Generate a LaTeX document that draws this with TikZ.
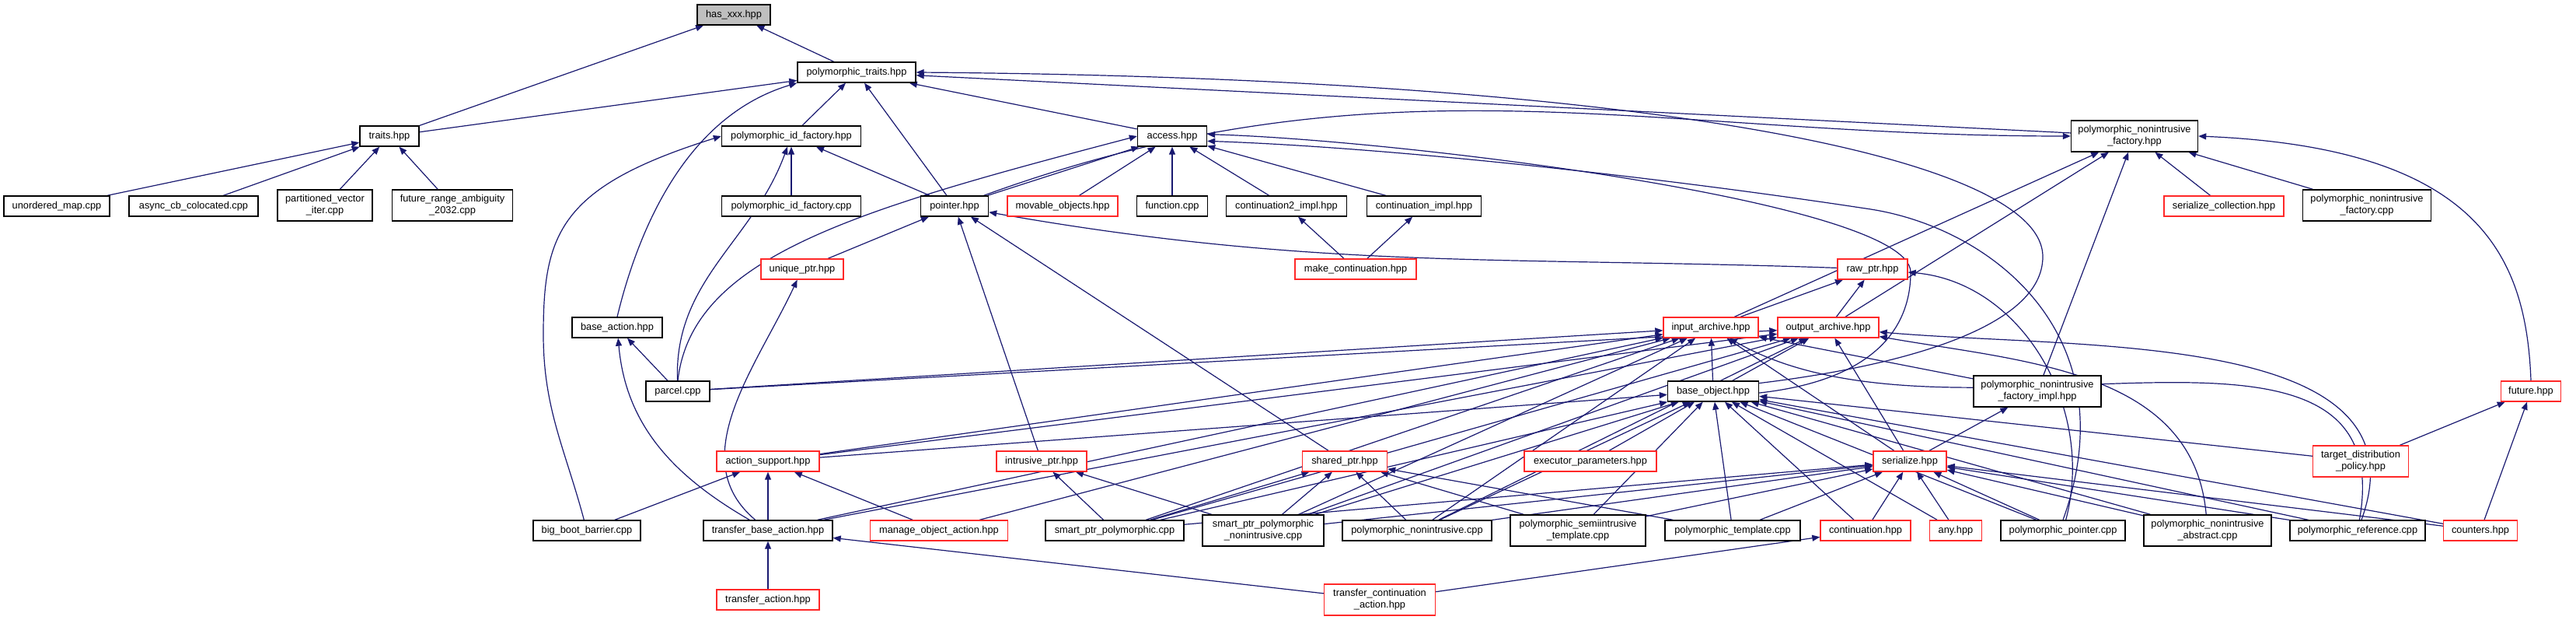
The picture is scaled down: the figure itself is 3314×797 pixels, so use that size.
\documentclass[tikz,border=0pt]{standalone}
\usepackage{fontspec}
\setmainfont{Liberation Sans}
\usetikzlibrary{arrows.meta,backgrounds}
\definecolor{bleunuit}{RGB}{25,25,112}
\definecolor{rougedox}{RGB}{255,40,40}
\definecolor{grisdox}{RGB}{191,191,191}

\begin{document}
\begin{tikzpicture}[x=0.5pt, y=0.5pt,
  fich/.style={draw=black, line width=0.7pt, fill=white, inner sep=0pt,
    minimum height=13pt, align=center, font=\fontsize{6.4}{7.5}\selectfont},
  fichrouge/.style={fich, draw=rougedox},
  deux/.style={minimum height=20pt},
  lien/.style={draw=bleunuit, line width=0.6pt, -{Triangle[length=5pt,width=4pt]}}]

\useasboundingbox (0,0) rectangle (3314,-797);

% Fichiers
\node[fich, fill=grisdox, minimum width=47pt] (has) at (944,-19) {has\_xxx.hpp};
\node[fich, minimum width=76pt] (ptraits) at (1102,-93) {polymorphic\_traits.hpp};

\node[fich, minimum width=38pt] (traits) at (501,-175) {traits.hpp};
\node[fich, minimum width=89.5pt] (pidf) at (1018,-175) {polymorphic\_id\_factory.hpp};
\node[fich, minimum width=44.5pt] (access) at (1508,-175) {access.hpp};
\node[fich, deux, minimum width=81.5pt] (pnf) at (2746,-175) {polymorphic\_nonintrusive\\\_factory.hpp};

\node[fich, minimum width=68pt] (umap) at (73,-265) {unordered\_map.cpp};
\node[fich, minimum width=83pt] (asynccb) at (249,-265) {async\_cb\_colocated.cpp};
\node[fich, deux, minimum width=61pt] (partvec) at (418,-264) {partitioned\_vector\\\_iter.cpp};
\node[fich, deux, minimum width=77.5pt] (futrange) at (582,-264) {future\_range\_ambiguity\\\_2032.cpp};
\node[fich, minimum width=89.5pt] (pidfcpp) at (1018,-265) {polymorphic\_id\_factory.cpp};
\node[fich, minimum width=43.5pt] (pointer) at (1228,-265) {pointer.hpp};
\node[fichrouge, minimum width=71pt] (movable) at (1367,-265) {movable\_objects.hpp};
\node[fich, minimum width=45.5pt] (function) at (1508,-265) {function.cpp};
\node[fich, minimum width=77.5pt] (conttwo) at (1655,-265) {continuation2\_impl.hpp};
\node[fich, minimum width=73.5pt] (contimpl) at (1832,-265) {continuation\_impl.hpp};
\node[fichrouge, minimum width=77pt] (sercoll) at (2861,-265) {serialize\_collection.hpp};
\node[fich, deux, minimum width=82.5pt] (pnfcpp) at (3045,-264) {polymorphic\_nonintrusive\\\_factory.cpp};

\node[fichrouge, minimum width=53pt] (uniqueptr) at (1032,-346) {unique\_ptr.hpp};
\node[fichrouge, minimum width=78pt] (makecont) at (1744,-346) {make\_continuation.hpp};
\node[fichrouge, minimum width=45pt] (rawptr) at (2409,-346) {raw\_ptr.hpp};

\node[fich, minimum width=58pt] (baseaction) at (794,-421) {base\_action.hpp};
\node[fichrouge, minimum width=61pt] (inarch) at (2201,-421) {input\_archive.hpp};
\node[fichrouge, minimum width=65pt] (outarch) at (2352,-421) {output\_archive.hpp};

\node[fich, minimum width=41pt] (parcel) at (872,-503) {parcel.cpp};
\node[fich, minimum width=58.5pt] (baseobj) at (2204,-503) {base\_object.hpp};
\node[fich, deux, minimum width=82pt] (pnfimpl) at (2621,-503) {polymorphic\_nonintrusive\\\_factory\_impl.hpp};
\node[fichrouge, minimum width=38.5pt] (future) at (3256,-503) {future.hpp};

\node[fichrouge, minimum width=66pt] (actsupp) at (988,-593) {action\_support.hpp};
\node[fichrouge, minimum width=58pt] (intrptr) at (1340,-593) {intrusive\_ptr.hpp};
\node[fichrouge, minimum width=54.5pt] (sharedptr) at (1730,-593) {shared\_ptr.hpp};
\node[fichrouge, minimum width=85pt] (execparam) at (2046,-593) {executor\_parameters.hpp};
\node[fichrouge, minimum width=47pt] (serialize) at (2457,-593) {serialize.hpp};
\node[fichrouge, deux, minimum width=61.5pt] (targetdist) at (3037,-593) {target\_distribution\\\_policy.hpp};

\node[fich, minimum width=69pt] (bigboot) at (755,-682) {big\_boot\_barrier.cpp};
\node[fich, minimum width=83pt] (transbase) at (988,-682) {transfer\_base\_action.hpp};
\node[fichrouge, minimum width=88.5pt] (manageobj) at (1208,-682) {manage\_object\_action.hpp};
\node[fich, minimum width=89pt] (spp) at (1434,-682) {smart\_ptr\_polymorphic.cpp};
\node[fich, deux, minimum width=78pt] (sppn) at (1625,-682) {smart\_ptr\_polymorphic\\\_nonintrusive.cpp};
\node[fich, minimum width=96pt] (pncpp) at (1823,-682) {polymorphic\_nonintrusive.cpp};
\node[fich, deux, minimum width=87pt] (semitmpl) at (2030,-682) {polymorphic\_semiintrusive\\\_template.cpp};
\node[fich, minimum width=87pt] (ptmpl) at (2229,-682) {polymorphic\_template.cpp};
\node[fichrouge, minimum width=58pt] (cont) at (2400,-682) {continuation.hpp};
\node[fichrouge, minimum width=33.5pt] (any) at (2516,-682) {any.hpp};
\node[fich, minimum width=80pt] (ppointer) at (2654,-682) {polymorphic\_pointer.cpp};
\node[fich, deux, minimum width=82pt] (pnabs) at (2840,-682) {polymorphic\_nonintrusive\\\_abstract.cpp};
\node[fich, minimum width=87pt] (pref) at (3033,-682) {polymorphic\_reference.cpp};
\node[fichrouge, minimum width=47.5pt] (counters) at (3191,-682) {counters.hpp};

\node[fichrouge, minimum width=66pt] (transaction) at (988,-771) {transfer\_action.hpp};
\node[fichrouge, deux, minimum width=71.5pt] (transcont) at (1775,-771) {transfer\_continuation\\\_action.hpp};

% Inclusions
\coordinate (virage1) at (2628,-330);
\coordinate (virage2) at (2458,-350);
\coordinate (virage3) at (699,-430);
\coordinate (virage4) at (2400,-268);
\begin{scope}[on background layer]
\foreach \a/\b in {traits/has, ptraits/has, traits/ptraits,
    umap/traits, asynccb/traits, partvec/traits, futrange/traits,
    pidf/ptraits, pointer/ptraits, access/ptraits, pnf/ptraits,
    pidfcpp/pidf, pointer/pidf,
    pointer/access, movable/access, function/access, conttwo/access, contimpl/access,
    inarch/pnf, outarch/pnf, pnfimpl/pnf, sercoll/pnf, pnfcpp/pnf,
    makecont/conttwo, makecont/contimpl,
    uniqueptr/pointer, intrptr/pointer, sharedptr/pointer,
    inarch/rawptr, outarch/rawptr,
    parcel/baseaction, baseobj/inarch, baseobj/outarch,
    parcel/inarch, parcel/outarch,
    actsupp/inarch, actsupp/outarch, actsupp/baseobj,
    transbase/inarch, transbase/outarch,
    bigboot/actsupp, transbase/actsupp, manageobj/actsupp, manageobj/inarch,
    spp/intrptr, sppn/intrptr,
    spp/sharedptr, sppn/sharedptr, pncpp/sharedptr, semitmpl/sharedptr, ptmpl/sharedptr,
    spp/baseobj, spp/serialize, spp/inarch, spp/outarch,
    sppn/baseobj, sppn/serialize, sppn/inarch, sppn/outarch,
    pncpp/baseobj, pncpp/serialize, pncpp/inarch, pncpp/outarch,
    semitmpl/baseobj, semitmpl/serialize, ptmpl/baseobj, ptmpl/serialize,
    cont/baseobj, cont/serialize, execparam/baseobj,
    any/serialize, any/baseobj,
    ppointer/serialize, ppointer/baseobj,
    pnabs/serialize, pnabs/baseobj,
    pref/serialize, pref/baseobj,
    counters/serialize, counters/baseobj, counters/future,
    targetdist/baseobj, targetdist/future,
    serialize/inarch, serialize/outarch, serialize/pnfimpl, pnfimpl/inarch,
    transaction/transbase, transcont/transbase, transcont/cont}
  \draw[lien] (\a) -- (\b);

% Liens courbes
\draw[lien] (baseaction.north) .. controls (820,-300) and (880,-150) .. (ptraits.south west);
\draw[lien] (parcel) to[out=92, in=-110] (pidf);
\draw[lien] (parcel.north) .. controls (890,-330) and (1100,-270) .. (access.west);
\draw[lien] (transbase) to[out=150, in=-85] (baseaction);
\draw[lien] (transbase) to[out=140, in=-115] (uniqueptr);
\draw[lien] (pointer) to[out=20, in=180] (pnf);
\draw[lien] (rawptr) to[out=178, in=-10] (pointer);
\draw[lien] (bigboot) to[out=105, in=-90] (virage3)
  .. controls (699,-300) and (720,-240) .. (pidf.west);
\draw[lien] (future.north) .. controls (3250,-330) and (3190,-190) .. (pnf.east);
\draw[lien] (baseobj.10) .. controls (2450,-470) and (2628,-420) .. (virage1)
  .. controls (2628,-200) and (2100,-100) .. (ptraits.east);
\draw[lien] (baseobj.-2) .. controls (2400,-490) and (2458,-430) .. (virage2)
  .. controls (2458,-260) and (1800,-180) .. (access.3);
\draw[lien] (ppointer.north) .. controls (2740,-430) and (2560,-290) .. (virage4)
  .. controls (2150,-230) and (1800,-190) .. (access.-8);
\draw[lien] (ppointer) to[out=75, in=-5] (rawptr);
\draw[lien] (pnabs) to[out=95, in=-10] (outarch);
\draw[lien] (pref) to[out=70, in=-5] (outarch);
\draw[lien] (pref) to[out=80, in=-30] (inarch);
\end{scope}

\end{tikzpicture}
\end{document}
